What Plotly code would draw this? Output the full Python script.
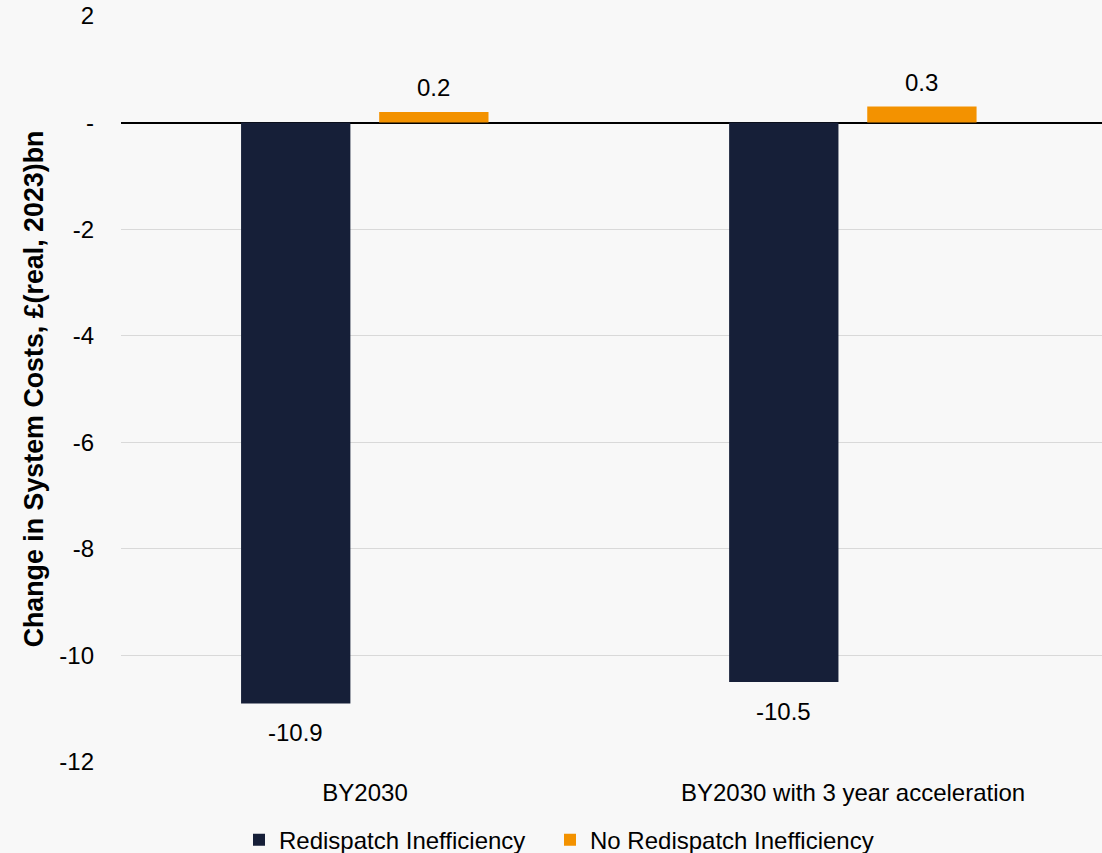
import plotly.graph_objects as go

categories = ["BY2030", "BY2030 with 3 year acceleration"]
redispatch = [-10.9, -10.5]
no_redispatch = [0.2, 0.3]
tick_vals = [2, 0, -2, -4, -6, -8, -10, -12]
tick_text = ["2", "-", "-2", "-4", "-6", "-8", "-10", "-12"]

NAVY = "#161F38"
ORANGE = "#F39200"
BG = "#F8F8F8"
FONT = "Liberation Sans, Arial, sans-serif"

BAR_W = 0.224
OFFSETS = (-0.254, 0.029)

fig = go.Figure()
fig.add_trace(go.Bar(
    x=categories, y=redispatch, name="Redispatch Inefficiency",
    marker=dict(color=NAVY, line=dict(width=0)),
    width=BAR_W, offset=OFFSETS[0], legend="legend",
))
fig.add_trace(go.Bar(
    x=categories, y=no_redispatch, name="No Redispatch Inefficiency",
    marker=dict(color=ORANGE, line=dict(width=0)),
    width=BAR_W, offset=OFFSETS[1], legend="legend2",
))

# value labels above positive bars, below negative bars
for series, off in ((redispatch, OFFSETS[0]), (no_redispatch, OFFSETS[1])):
    for i, v in enumerate(series):
        fig.add_annotation(
            x=i + off + BAR_W / 2, y=v, xref="x", yref="y",
            text=f"{v:.1f}", showarrow=False,
            yshift=24 if v >= 0 else -29,
            font=dict(size=24, color="#000000", family=FONT),
        )

legend_common = dict(
    orientation="h", xref="container", xanchor="left",
    yref="container", y=0.0152, yanchor="middle",
    font=dict(size=24), itemwidth=30,
    bgcolor="rgba(0,0,0,0)",
)

fig.update_layout(
    width=1102, height=853,
    paper_bgcolor=BG, plot_bgcolor=BG,
    margin=dict(l=121, r=0, t=16, b=91, autoexpand=False),
    barmode="overlay",
    font=dict(family=FONT, size=24, color="#000000"),
    showlegend=True,
    legend=dict(x=239 / 1102, **legend_common),
    legend2=dict(x=550 / 1102, **legend_common),
)
fig.update_xaxes(
    type="category", range=[-0.5, 1.51],
    showgrid=False, showline=False, zeroline=False,
    ticks="", ticklabelstandoff=14,
    tickfont=dict(size=24),
)
fig.update_yaxes(
    range=[-12, 2], tickvals=tick_vals, ticktext=tick_text,
    showgrid=True, gridcolor="#D9D9D9", gridwidth=1.3,
    zeroline=True, zerolinecolor="#000000", zerolinewidth=1.5,
    showline=False, ticks="", ticklabelstandoff=26,
    tickfont=dict(size=24),
    title=dict(
        text="<b>Change in System Costs, £(real, 2023)bn</b>",
        font=dict(size=26.8), standoff=7,
    ),
)

fig.write_html("out.html")
